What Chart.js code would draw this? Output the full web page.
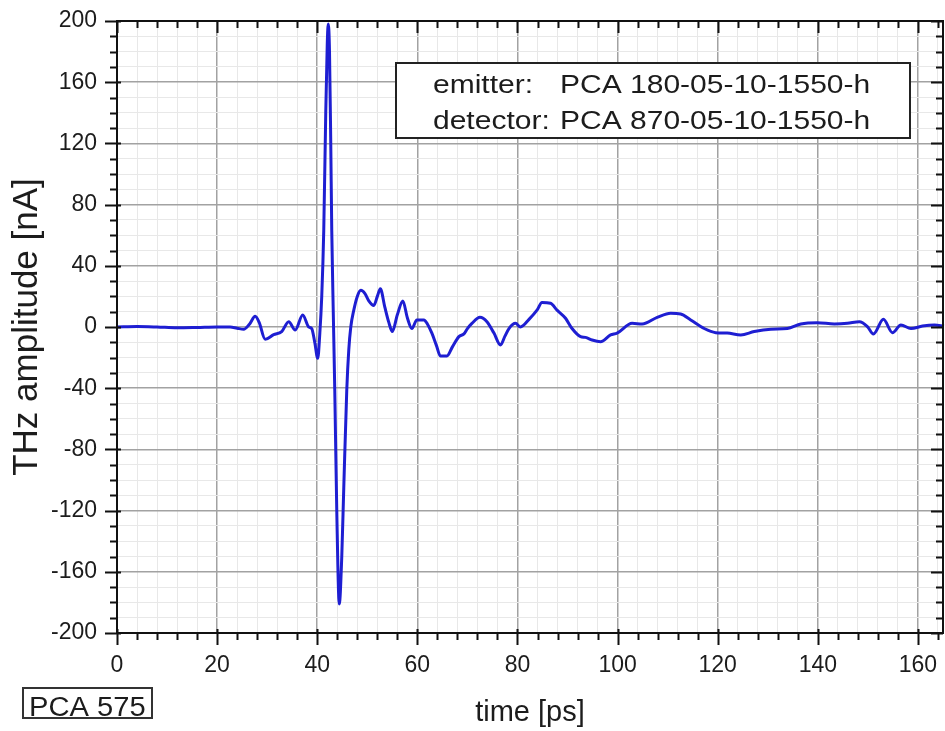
<!DOCTYPE html>
<html>
<head>
<meta charset="utf-8">
<script src="https://cdn.jsdelivr.net/npm/chart.js@4/dist/chart.umd.min.js"></script>
<style>
html,body{margin:0;padding:0;background:#ffffff;}
#wrap{width:945px;height:731px;position:relative;}
</style>
</head>
<body>
<div id="wrap"><canvas id="c" width="945" height="731"></canvas></div>
<script>
// ---- data ----
const timePs = [
  0, 4, 8, 12, 16, 20, 22.6, 24, 25.3, 26.5, 27.6, 28.4, 29.6, 31.3, 32.9, 34.3, 35.6, 37.1, 38.3, 38.9,
  39.5, 40.1, 40.5, 40.9, 41.3, 41.7, 42.0, 42.2, 42.45, 42.7, 42.9, 43.2, 43.5, 43.9, 44.4, 44.9, 45.3, 45.9, 46.3, 46.7,
  47.3, 48.0, 48.7, 49.5, 50.3, 51.3, 52.0, 52.6, 53.5, 54.3, 55.0, 56.0, 57.1, 58.0, 58.9, 59.9, 61.3, 62.0, 62.9, 63.8,
  64.6, 65.9, 67.0, 68.3, 69.3, 70.0, 70.9, 72.5, 73.9, 75.3, 76.6, 77.5, 78.3, 79.6, 80.6, 82.3, 83.9, 84.9, 86.6, 87.9,
  89.6, 90.9, 92.6, 93.6, 94.9, 96.6, 98.6, 99.9, 102.9, 104.9, 107.9, 110.6, 112.6, 114.6, 117.3, 119.6, 121.9, 124.6, 127.3, 130.6,
  133.9, 136.6, 139.9, 143.3, 145.9, 148.3, 149.9, 151.1, 153.1, 154.9, 156.6, 158.6, 160.9, 163.3, 165.2
];
const amplitudeNA = [
  0, 0.3, 0, -0.5, -0.3, 0, 0, -0.8, -1.5, 2, 7, 3, -8, -5, -3, 3.5, -2, 7.8, 0, -1,
  -10, -20.5, -5, 20, 63, 140, 185, 198, 180, 120, 63, 10, -41, -120, -181, -150, -105, -41, -15, 0,
  11, 20, 24, 22, 17, 14, 20, 25, 13, 3, -3, 8, 17, 6, -1, 4.6, 4.6, 2, -4, -12,
  -19, -19, -13, -6.3, -4.5, -1, 2.4, 6.3, 3.5, -4, -11.8, -6, -1, 2.4, 0, 5, 11, 16, 15.5, 11,
  5.7, -1, -6.3, -6.8, -8.5, -9.6, -5.2, -4, 2.4, 2, 6.3, 9, 8.5, 4.6, -1, -3.7, -4, -5.2, -3, -1.5,
  -1, 2, 2.8, 2, 2.4, 3.5, 0.3, -4.6, 5, -3.7, 1.3, -1, 0.6, 1.3, 0.6
];
const xTickLabels = [0, 20, 40, 60, 80, 100, 120, 140, 160];
const yTickLabels = [-200, -160, -120, -80, -40, 0, 40, 80, 120, 160, 200];
const xRange = [0, 165];
const yRange = [-200, 200];
const xMinorStep = 4;
const yMinorStep = 10;
const xTitle = 'time [ps]';
const yTitle = 'THz amplitude [nA]';
const legendLines = [
  ['emitter:', 'PCA 180-05-10-1550-h'],
  ['detector:', 'PCA 870-05-10-1550-h']
];
const sampleLabel = 'PCA 575';

// ---- styling ----
const FONT = "'Liberation Sans', Arial, Helvetica, sans-serif";
const TEXT = '#1c1c1c';

function stepTicks(min, max, step) {
  const out = [];
  for (let v = min; v <= max + 1e-9; v += step) out.push({ value: Math.round(v * 1000) / 1000 });
  return out;
}

const points = timePs.map((t, i) => ({ x: t, y: amplitudeNA[i] }));

const framePlugin = {
  id: 'frameDecor',
  afterDraw(chart) {
    const { ctx, chartArea: a, scales } = chart;
    const xs = scales.x, ys = scales.y;
    ctx.save();
    ctx.strokeStyle = '#111111';
    ctx.lineWidth = 2;
    ctx.strokeRect(a.left, a.top, a.right - a.left, a.bottom - a.top);
    ctx.beginPath();
    xs.ticks.forEach(t => {
      const px = Math.round(xs.getPixelForValue(t.value)) + 0.5;
      const major = xTickLabels.includes(t.value);
      const len = major ? 12 : 7;
      ctx.moveTo(px, a.bottom - (major ? 4 : 0)); ctx.lineTo(px, a.bottom + len);
      ctx.moveTo(px, a.top); ctx.lineTo(px, a.top + len);
    });
    ys.ticks.forEach(t => {
      const py = Math.round(ys.getPixelForValue(t.value)) + 0.5;
      const major = yTickLabels.includes(t.value);
      const len = major ? 12 : 7;
      ctx.moveTo(a.left - len, py); ctx.lineTo(a.left + (major ? 4 : 0), py);
      ctx.moveTo(a.right, py); ctx.lineTo(a.right - len, py);
    });
    ctx.stroke();

    // legend box (text annotation)
    const bx = a.left + 279, by = a.top + 42, bw = 514, bh = 75;
    ctx.fillStyle = '#ffffff';
    ctx.fillRect(bx, by, bw, bh);
    ctx.lineWidth = 2;
    ctx.strokeStyle = '#222222';
    ctx.strokeRect(bx, by, bw, bh);
    ctx.fillStyle = TEXT;
    ctx.font = '25px ' + FONT;
    ctx.textBaseline = 'alphabetic';
    ctx.textAlign = 'left';
    const sx = 1.2;
    legendLines.forEach((ln, i) => {
      const base = by + 30 + i * 36;
      ctx.save();
      ctx.translate(bx + 37, base);
      ctx.scale(sx, 1);
      ctx.fillText(ln[0], 0, 0);
      ctx.restore();
      ctx.save();
      ctx.translate(bx + 164, base);
      ctx.scale(sx, 1);
      ctx.fillText(ln[1], 0, 0);
      ctx.restore();
    });

    // sample label box bottom-left
    const lx = 23, ly = a.bottom + 55, lw = 129, lh = 30;
    ctx.lineWidth = 2;
    ctx.strokeStyle = '#333333';
    ctx.strokeRect(lx, ly, lw, lh);
    ctx.fillStyle = TEXT;
    ctx.font = '27px ' + FONT;
    ctx.save();
    ctx.translate(lx + 6, ly + 28);
    ctx.scale(1.08, 1);
    ctx.fillText(sampleLabel, 0, 0);
    ctx.restore();
    ctx.restore();
  }
};

new Chart(document.getElementById('c'), {
  type: 'line',
  data: {
    datasets: [{
      data: points,
      borderColor: '#1e1ed2',
      borderWidth: 3,
      pointRadius: 0,
      fill: false,
      cubicInterpolationMode: 'monotone',
      clip: 4
    }]
  },
  options: {
    responsive: false,
    animation: false,
    devicePixelRatio: 1,
    layout: { padding: { top: 21, right: 2, left: 0, bottom: 0 } },
    plugins: { legend: { display: false }, tooltip: { enabled: false } },
    scales: {
      x: {
        type: 'linear',
        min: xRange[0], max: xRange[1],
        afterBuildTicks: s => { s.ticks = stepTicks(xRange[0], xRange[1] - 1, xMinorStep); },
        afterFit: s => { s.height = 98; s.paddingLeft = 0; s.paddingRight = 0; },
        border: { display: false },
        grid: {
          drawTicks: false,
          color: c => xTickLabels.includes(c.tick.value) ? '#a2a2a2' : '#e8e8e8',
          lineWidth: c => xTickLabels.includes(c.tick.value) ? 1.5 : 1
        },
        ticks: {
          autoSkip: false, maxRotation: 0, minRotation: 0,
          padding: 19,
          color: TEXT,
          font: { family: FONT, size: 23 },
          callback: v => xTickLabels.includes(v) ? String(v) : ''
        },
        title: {
          display: true, text: xTitle, color: TEXT,
          font: { family: FONT, size: 29 },
          padding: { top: 0, bottom: 1 }
        }
      },
      y: {
        type: 'linear',
        min: yRange[0], max: yRange[1],
        afterBuildTicks: s => { s.ticks = stepTicks(yRange[0], yRange[1], yMinorStep); },
        afterFit: s => { s.width = 117; s.paddingTop = 0; s.paddingBottom = 0; },
        border: { display: false },
        grid: {
          drawTicks: false,
          color: c => yTickLabels.includes(c.tick.value) ? '#a2a2a2' : '#e8e8e8',
          lineWidth: c => yTickLabels.includes(c.tick.value) ? 1.5 : 1
        },
        ticks: {
          autoSkip: false,
          padding: 20,
          color: TEXT,
          font: { family: FONT, size: 23 },
          callback: v => yTickLabels.includes(v) ? String(v) : ''
        },
        title: {
          display: true, text: yTitle, color: TEXT,
          font: { family: FONT, size: 35 },
          padding: { top: 6, bottom: 0 }
        }
      }
    }
  },
  plugins: [framePlugin]
});
</script>
</body>
</html>
